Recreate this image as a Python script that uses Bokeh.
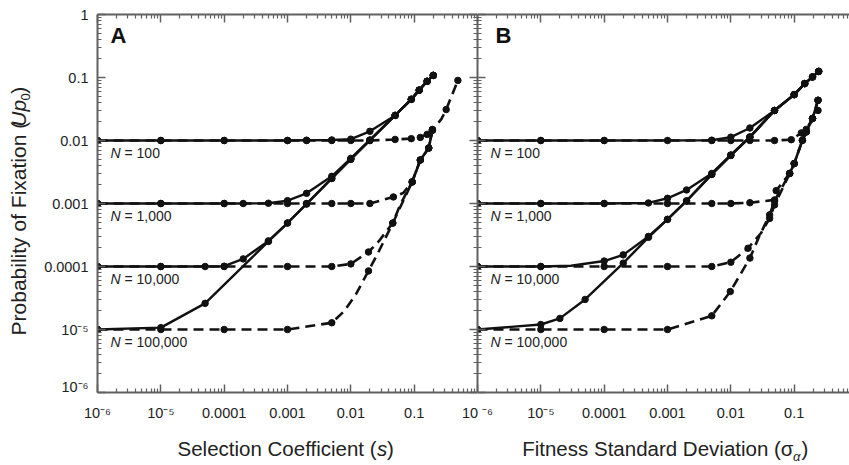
from bokeh.plotting import figure
from bokeh.layouts import row, column
from bokeh.models import LogAxis, FixedTicker, Range1d, Label, CustomJSTickFormatter
from bokeh.embed import file_html
from bokeh.resources import INLINE

# ---------------- data ----------------
N_VALUES = [100, 1000, 10000, 100000]
N_LABELS = ["100", "1,000", "10,000", "100,000"]

X_TICK_LABELS_A = ["10⁻⁶", "10⁻⁵", "0.0001", "0.001", "0.01", "0.1"]
X_TICK_LABELS_B = ["10 ⁻⁶", "10⁻⁵", "0.0001", "0.001", "0.01", "0.1"]
Y_TICK_LABELS = ["10⁻⁶", "10⁻⁵", "0.0001", "0.001", "0.01", "0.1", "1"]

# Panel A: selection coefficient s -> U p0
A_S100_X = [1e-6, 1e-5, 1e-4, 1e-3, 0.002, 0.005, 0.01, 0.02, 0.05, 0.09, 0.12, 0.16, 0.2]
A_S100_Y = [0.01, 0.01, 0.01, 0.01, 0.0101, 0.0102, 0.0105, 0.014, 0.025, 0.045, 0.063, 0.087, 0.108]
A_S1000_X = [1e-6, 1e-5, 1e-4, 2e-4, 5e-4, 1e-3, 0.002, 0.005, 0.01, 0.02, 0.05, 0.09, 0.12, 0.16, 0.2]
A_S1000_Y = [0.001, 0.001, 0.001, 0.001, 0.00101, 0.00111, 0.00145, 0.0027, 0.0052, 0.0102, 0.025, 0.045, 0.063, 0.087, 0.108]
A_S10000_X = [1e-6, 1e-5, 5e-5, 1e-4, 2e-4, 5e-4, 1e-3, 0.002, 0.005, 0.01, 0.02, 0.05, 0.09, 0.12, 0.16, 0.2]
A_S10000_Y = [1e-4, 1e-4, 1e-4, 1.01e-4, 1.32e-4, 2.55e-4, 4.9e-4, 0.00099, 0.0025, 0.0051, 0.0101, 0.025, 0.045, 0.063, 0.087, 0.108]
A_S100000_X = [1e-6, 1e-5, 5e-5, 5e-4, 1e-3, 0.002, 0.005, 0.01, 0.02, 0.05, 0.09, 0.12, 0.16, 0.2]
A_S100000_Y = [1e-5, 1.07e-5, 2.6e-5, 2.5e-4, 4.9e-4, 0.00098, 0.0025, 0.005, 0.01, 0.025, 0.045, 0.063, 0.087, 0.108]

A_D100_X = [1e-6, 1e-5, 1e-4, 1e-3, 0.002, 0.005, 0.01, 0.02, 0.05, 0.09, 0.125, 0.16, 0.194]
A_D100_Y = [0.01, 0.01, 0.01, 0.01, 0.01, 0.01, 0.01, 0.01, 0.0104, 0.0107, 0.0112, 0.0125, 0.015]
A_D1000_X = [1e-6, 1e-5, 1e-4, 1e-3, 0.002, 0.005, 0.01, 0.02, 0.047, 0.067, 0.093, 0.125, 0.17, 0.194]
A_D1000_Y = [0.001, 0.001, 0.001, 0.001, 0.001, 0.001, 0.001, 0.001, 0.00127, 0.00147, 0.0022, 0.0049, 0.0076, 0.0146]
A_D1000_DOT = [1, 1, 1, 1, 1, 1, 1, 1, 1, 0, 1, 1, 1, 1]
A_D10000_X = [1e-6, 1e-5, 1e-4, 1e-3, 0.005, 0.01, 0.019, 0.0275, 0.046, 0.06, 0.093, 0.125, 0.17, 0.194]
A_D10000_Y = [1e-4, 1e-4, 1e-4, 1e-4, 1e-4, 1.1e-4, 1.7e-4, 2.5e-4, 4.9e-4, 9.5e-4, 0.0022, 0.0049, 0.0076, 0.0146]
A_D10000_DOT = [1, 1, 1, 1, 1, 1, 1, 0, 1, 0, 1, 1, 1, 1]
A_D100000_X = [1e-6, 1e-5, 1e-4, 1e-3, 0.005, 0.0078, 0.012, 0.019, 0.027, 0.035, 0.046, 0.093, 0.125, 0.17, 0.194, 0.27, 0.32, 0.49]
A_D100000_Y = [1e-5, 1e-5, 1e-5, 1e-5, 1.28e-5, 1.94e-5, 3.6e-5, 8.5e-5, 1.66e-4, 2.8e-4, 4.9e-4, 0.0022, 0.0049, 0.0076, 0.0146, 0.022, 0.031, 0.09]
A_D100000_DOT = [1, 1, 1, 1, 1, 0, 0, 1, 0, 0, 1, 1, 1, 1, 1, 0, 1, 1]

# Panel B: fitness standard deviation sigma -> U p0
B_S100_X = [1e-6, 1e-5, 1e-4, 0.005, 0.01, 0.02, 0.049, 0.1, 0.147, 0.195, 0.244]
B_S100_Y = [0.01, 0.01, 0.01, 0.0101, 0.0113, 0.0158, 0.03, 0.0535, 0.08, 0.102, 0.125]
B_S1000_X = [1e-6, 1e-5, 1e-4, 5e-4, 1e-3, 0.002, 0.005, 0.01, 0.02, 0.049, 0.1, 0.147, 0.195, 0.244]
B_S1000_Y = [0.001, 0.001, 0.001, 0.00102, 0.00121, 0.00164, 0.003, 0.0059, 0.0114, 0.03, 0.0535, 0.08, 0.102, 0.125]
B_S10000_X = [1e-6, 1e-5, 3e-5, 1e-4, 2e-4, 5e-4, 1e-3, 0.002, 0.005, 0.01, 0.02, 0.049, 0.1, 0.147, 0.195, 0.244]
B_S10000_Y = [1e-4, 1e-4, 1.03e-4, 1.22e-4, 1.53e-4, 3.0e-4, 5.6e-4, 0.0011, 0.0029, 0.0058, 0.0113, 0.03, 0.0535, 0.08, 0.102, 0.125]
B_S10000_DOT = [1, 1, 0, 1, 1, 1, 1, 1, 1, 1, 1, 1, 1, 1, 1, 1]
B_S100000_X = [1e-6, 1e-5, 2e-5, 5e-5, 2e-4, 5e-4, 1e-3, 0.002, 0.005, 0.01, 0.02, 0.049, 0.1, 0.147, 0.195, 0.244]
B_S100000_Y = [1e-5, 1.2e-5, 1.5e-5, 3.0e-5, 1.13e-4, 2.9e-4, 5.6e-4, 0.0011, 0.0029, 0.0058, 0.0113, 0.03, 0.0535, 0.08, 0.102, 0.125]

B_D100_X = [1e-6, 1e-5, 1e-4, 1e-3, 0.005, 0.01, 0.02, 0.049, 0.09, 0.13, 0.155, 0.195, 0.238]
B_D100_Y = [0.01, 0.01, 0.01, 0.01, 0.01, 0.01, 0.01, 0.01, 0.0103, 0.0132, 0.015, 0.0223, 0.03]
B_D1000_X = [1e-6, 1e-5, 1e-4, 1e-3, 0.005, 0.01, 0.02, 0.049, 0.052, 0.085, 0.1, 0.135, 0.155, 0.195, 0.238]
B_D1000_Y = [0.001, 0.001, 0.001, 0.001, 0.001, 0.001, 0.00103, 0.00114, 0.0016, 0.003, 0.0043, 0.0101, 0.0137, 0.0223, 0.0435]
B_D10000_X = [1e-6, 1e-5, 1e-4, 1e-3, 0.005, 0.01, 0.0187, 0.03, 0.041, 0.049, 0.085, 0.1, 0.135, 0.155, 0.195, 0.238]
B_D10000_Y = [1e-4, 1e-4, 1e-4, 1e-4, 1e-4, 1.17e-4, 1.95e-4, 3.4e-4, 5.8e-4, 9.5e-4, 0.003, 0.0043, 0.0101, 0.0137, 0.0223, 0.0435]
B_D10000_DOT = [1, 1, 1, 1, 1, 1, 1, 0, 1, 1, 1, 1, 1, 1, 1, 1]
B_D100000_X = [1e-6, 1e-5, 1e-4, 1e-3, 0.005, 0.0098, 0.02, 0.028, 0.041, 0.049, 0.085, 0.1, 0.135, 0.155, 0.195, 0.238]
B_D100000_Y = [1e-5, 1e-5, 1e-5, 1e-5, 1.65e-5, 4.0e-5, 1.36e-4, 3.0e-4, 6.6e-4, 0.0011, 0.003, 0.0043, 0.0101, 0.0137, 0.0223, 0.0435]
B_D100000_DOT = [1, 1, 1, 1, 1, 1, 1, 0, 1, 1, 1, 1, 1, 1, 1, 1]

# ---------------- layout / style ----------------
FONT = "Liberation Sans"
INK = "#111111"
AXC = "#606060"
TXT = "#222222"

WIN_W, WIN_H = 849, 465
FRAME_TOP, FRAME_BOTTOM = 14, 392
TOP_H = FRAME_BOTTOM + 2     # height of the row holding the two panels
YT_W = 40                    # strip holding the rotated y title
A_LEFT, SPLIT = 97, 477
DEC_X = (SPLIT - A_LEFT) / 6.0
DEC_Y = (FRAME_BOTTOM - FRAME_TOP) / 6.0
STRIP_LABEL_BORDER = 30


def px_x(px, left):
    return 10 ** (-6 + (px - left) / DEC_X)


def px_y(py):
    return 10 ** (-(py - FRAME_TOP) / DEC_Y)


MAJ = [10.0 ** k for k in range(-6, 1)]
MIN = [m * 10.0 ** k for k in range(-6, 0) for m in range(2, 10)]


def style_fig(p):
    p.grid.visible = False
    p.outline_line_color = None
    p.background_fill_color = "white"
    p.border_fill_color = "white"
    return p


def base_fig(width, left_border, x_end):
    p = figure(width=width, height=TOP_H, x_axis_type="log", y_axis_type="log",
               x_axis_location=None, y_axis_location=None,
               x_range=Range1d(1e-6, x_end), y_range=Range1d(1e-6, 1),
               min_border_left=left_border, min_border_right=0,
               min_border_top=FRAME_TOP, min_border_bottom=TOP_H - FRAME_BOTTOM,
               output_backend="svg", toolbar_location=None)
    return style_fig(p)


def add_axis(p, loc, labels=None, standoff=0):
    ax = LogAxis(ticker=FixedTicker(ticks=MAJ, minor_ticks=MIN),
                 axis_line_color=AXC, axis_line_width=2,
                 major_tick_line_color=AXC, major_tick_line_width=1.5,
                 minor_tick_line_color=AXC, minor_tick_line_width=1.2,
                 major_tick_in=8, major_tick_out=0, minor_tick_in=4, minor_tick_out=0)
    if labels:
        ax.formatter = CustomJSTickFormatter(
            args=dict(labels=labels),
            code="return labels[Math.round(Math.log10(tick)) + 6];")
        ax.major_label_text_font = FONT
        ax.major_label_text_font_size = "14.5px"
        ax.major_label_text_color = TXT
        ax.major_label_standoff = standoff
    else:
        ax.formatter = CustomJSTickFormatter(code="return '';")
        ax.major_label_text_font_size = "0px"
        ax.major_label_standoff = 0
    p.add_layout(ax, loc)


def draw(p, xs, ys, dashed, dots=None):
    if dashed:
        p.line(xs, ys, line_color=INK, line_width=2.6, line_dash="10 6")
    else:
        p.line(xs, ys, line_color=INK, line_width=2.4)
    if dots is None:
        mx, my = xs, ys
    else:
        mx = [x for x, d in zip(xs, dots) if d]
        my = [y for y, d in zip(ys, dots) if d]
    p.scatter(mx, my, marker="circle", size=6.5, fill_color=INK, line_color=INK)


def label(p, x, y, text, size, style="normal", align="left", angle=0, color=TXT):
    p.add_layout(Label(x=x, y=y, text=text, text_font=FONT, text_font_size=size,
                       text_font_style=style, text_align=align, text_baseline="middle",
                       angle=angle, angle_units="deg", text_color=color))


# ---------------- panel A ----------------
pa = base_fig(SPLIT - YT_W, A_LEFT - YT_W, 1.0)
add_axis(pa, "left", Y_TICK_LABELS, standoff=9)
add_axis(pa, "below")
add_axis(pa, "above")
add_axis(pa, "right")

for xs, ys, dots in [(A_D100_X, A_D100_Y, None), (A_D1000_X, A_D1000_Y, A_D1000_DOT),
                     (A_D10000_X, A_D10000_Y, A_D10000_DOT), (A_D100000_X, A_D100000_Y, A_D100000_DOT)]:
    draw(pa, xs, ys, True, dots)
for xs, ys in [(A_S100_X, A_S100_Y), (A_S1000_X, A_S1000_Y),
               (A_S10000_X, A_S10000_Y), (A_S100000_X, A_S100000_Y)]:
    draw(pa, xs, ys, False)

# ---------------- panel B ----------------
pb = base_fig(WIN_W - SPLIT, 0, px_x(WIN_W, SPLIT))
add_axis(pb, "left")
add_axis(pb, "below")
add_axis(pb, "above")

for xs, ys, dots in [(B_D100_X, B_D100_Y, None), (B_D1000_X, B_D1000_Y, None),
                     (B_D10000_X, B_D10000_Y, B_D10000_DOT), (B_D100000_X, B_D100000_Y, B_D100000_DOT)]:
    draw(pb, xs, ys, True, dots)
for xs, ys, dots in [(B_S100_X, B_S100_Y, None), (B_S1000_X, B_S1000_Y, None),
                     (B_S10000_X, B_S10000_Y, B_S10000_DOT), (B_S100000_X, B_S100000_Y, None)]:
    draw(pb, xs, ys, False, dots)

# ---------------- in-panel texts ----------------
NDROP = 10 ** (-12.75 / DEC_Y)
for p, left, x0 in [(pa, A_LEFT, 110), (pb, SPLIT, 490)]:
    for n, lab in zip(N_VALUES, N_LABELS):
        yb = (1.0 / n) * NDROP
        label(p, px_x(x0, left), yb, "N", "14px", "italic")
        label(p, px_x(x0 + 14.0, left), yb, "= " + lab, "14px")

label(pa, px_x(110, A_LEFT), px_y(35.4), "A", "22px", "bold", color="#111111")
label(pb, px_x(495, SPLIT), px_y(35.4), "B", "22px", "bold", color="#111111")

# ---------------- y title strip (coordinates = page pixels) ----------------
yt = style_fig(figure(width=YT_W, height=TOP_H, x_range=Range1d(0, YT_W), y_range=Range1d(TOP_H, 0),
                      x_axis_location=None, y_axis_location=None, min_border=0,
                      min_border_left=0, min_border_right=0, min_border_top=0, min_border_bottom=0,
                      output_backend="svg", toolbar_location=None))
label(yt, 17.7, 223.2, "Probability of Fixation (", "21px", align="center", angle=90)
label(yt, 17.7, 103.0, "Up", "21px", "italic", align="center", angle=90)
label(yt, 24.5, 86.0, "0", "13px", align="center", angle=90)
label(yt, 17.7, 78.9, ")", "21px", align="center", angle=90)

# ---------------- bottom strip: x tick labels of both panels + titles ----------------
# its log x scale continues panel A's decades across panel B (B's 1e-6 sits at A's 1)
xt = style_fig(figure(width=WIN_W, height=WIN_H - TOP_H, x_axis_type="log",
                      x_range=Range1d(px_x(0, A_LEFT), px_x(WIN_W, A_LEFT)),
                      y_range=Range1d(WIN_H, TOP_H + STRIP_LABEL_BORDER),
                      x_axis_location=None, y_axis_location=None, min_border=0,
                      min_border_left=0, min_border_right=0,
                      min_border_top=STRIP_LABEL_BORDER, min_border_bottom=0,
                      output_backend="svg", toolbar_location=None))
STRIP_TICKS = [10.0 ** k for k in range(-6, 6)]
tick_axis = LogAxis(ticker=FixedTicker(ticks=STRIP_TICKS, minor_ticks=[]),
                    axis_line_color=None, major_tick_line_color=None, minor_tick_line_color=None,
                    major_tick_in=0, major_tick_out=0, minor_tick_in=0, minor_tick_out=0,
                    major_label_standoff=4, major_label_text_font=FONT,
                    major_label_text_font_size="14.5px", major_label_text_color=TXT,
                    formatter=CustomJSTickFormatter(
                        args=dict(labels=X_TICK_LABELS_A + X_TICK_LABELS_B),
                        code="return labels[Math.round(Math.log10(tick)) + 6];"))
xt.add_layout(tick_axis, "above")

TM = 447.9
label(xt, px_x(177, A_LEFT), TM, "Selection Coefficient (", "20.5px")
label(xt, px_x(376.4, A_LEFT), TM, "s", "20.5px", "italic")
label(xt, px_x(386.6, A_LEFT), TM, ")", "20.5px")
label(xt, px_x(521.7, A_LEFT), TM, "Fitness Standard Deviation (", "20.5px")
label(xt, px_x(780.3, A_LEFT), TM, "σ", "20.5px")
label(xt, px_x(792.5, A_LEFT), 455.5, "α", "13px", "italic")
label(xt, px_x(801.0, A_LEFT), TM, ")", "20.5px")

layout = column(row(yt, pa, pb), xt)
open("out.html", "w").write(file_html(layout, INLINE))
